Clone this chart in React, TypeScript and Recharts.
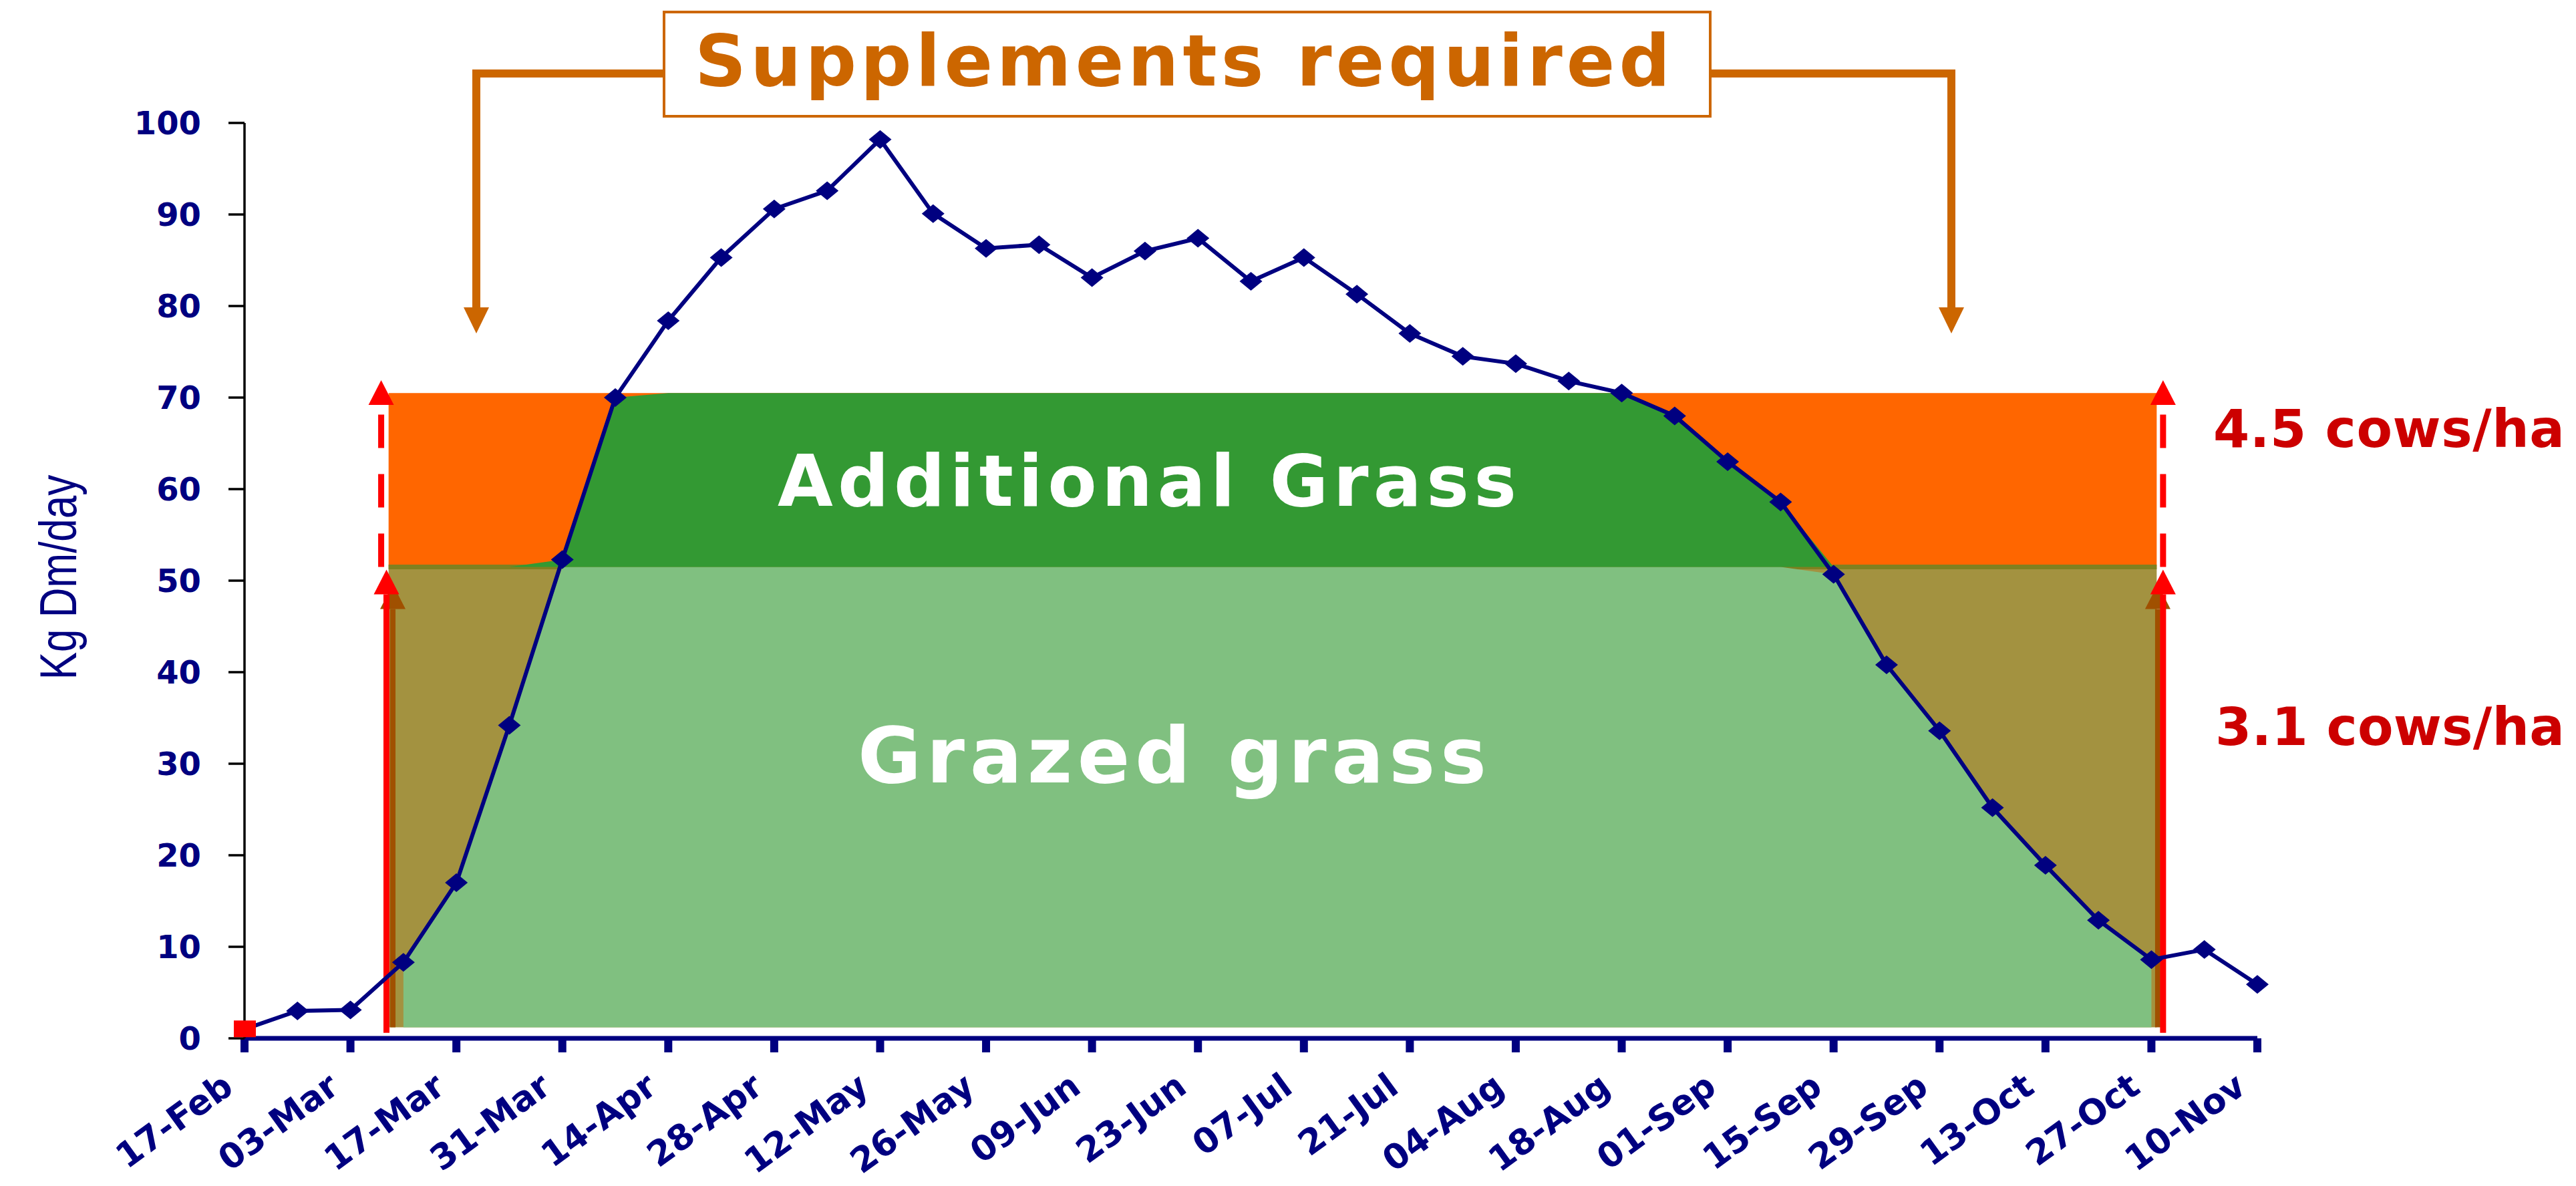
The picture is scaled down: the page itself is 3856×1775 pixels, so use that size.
import { ComposedChart, Area, Line, XAxis, YAxis, ReferenceLine } from 'recharts'

// weekly grass growth (kg DM/ha/day), 17-Feb .. 10-Nov
const weekDates = [
  '17-Feb', '24-Feb', '03-Mar', '10-Mar', '17-Mar', '24-Mar', '31-Mar', '07-Apr',
  '14-Apr', '21-Apr', '28-Apr', '05-May', '12-May', '19-May', '26-May', '02-Jun',
  '09-Jun', '16-Jun', '23-Jun', '30-Jun', '07-Jul', '14-Jul', '21-Jul', '28-Jul',
  '04-Aug', '11-Aug', '18-Aug', '25-Aug', '01-Sep', '08-Sep', '15-Sep', '22-Sep',
  '29-Sep', '06-Oct', '13-Oct', '20-Oct', '27-Oct', '03-Nov', '10-Nov',
]

const grassGrowth = [
  1.0, 3.0, 3.1, 8.3, 17.0, 34.2, 52.3, 70.0,
  78.4, 85.3, 90.6, 92.6, 98.2, 90.1, 86.3, 86.7,
  83.1, 86.0, 87.4, 82.7, 85.3, 81.3, 77.0, 74.5,
  73.7, 71.8, 70.5, 68.0, 63.0, 58.6, 50.7, 40.8,
  33.6, 25.2, 18.9, 12.9, 8.6, 9.7, 5.9,
]

const yTicks = [0, 10, 20, 30, 40, 50, 60, 70, 80, 90, 100]
const xTicks = [0, 2, 4, 6, 8, 10, 12, 14, 16, 18, 20, 22, 24, 26, 28, 30, 32, 34, 36, 38]

// demand levels for the two stocking rates
const demandLow = 51.5 // 3.1 cows/ha
const demandHigh = 70.5 // 4.5 cows/ha
const demandFloor = 1.2
// grazing season (week index)
const seasonStart = 2.72
const seasonEnd = 36.1
const firstWeek = 3
const lastWeek = 36

const NAVY = '#000080'
const RED = '#FF0000'
const BOLD = '"DejaVu Sans", Verdana, sans-serif'

const lineData = weekDates.map((date, i) => ({ x: i, date, growth: grassGrowth[i] }))

const band = (lo: number, hi: number) => [
  { x: seasonStart, v: [lo, hi] },
  { x: seasonEnd, v: [lo, hi] },
]

const grazedData = lineData
  .filter((d) => d.x >= firstWeek && d.x <= lastWeek)
  .map((d) => ({ x: d.x, v: [demandFloor, Math.min(d.growth, demandLow)] }))

const additionalData = lineData
  .filter((d) => d.x >= firstWeek && d.x <= lastWeek)
  .map((d) => ({
    x: d.x,
    v: [demandLow, Math.max(demandLow, Math.min(d.growth, demandHigh))],
  }))

const arrow = (color: string, dashed: boolean, width = 9) => (props: any) => {
  const { x1, y1, y2 } = props
  const top = Math.min(y1, y2)
  const bottom = Math.max(y1, y2)
  const headH = 37
  const headW = 38
  return (
    <g>
      <line
        x1={x1}
        x2={x1}
        y1={bottom}
        y2={top + headH}
        stroke={color}
        strokeWidth={width}
        strokeDasharray={dashed ? '50 39' : undefined}
      />
      <polygon
        points={`${x1},${top} ${x1 - headW / 2},${top + headH} ${x1 + headW / 2},${top + headH}`}
        fill={color}
      />
    </g>
  )
}

const GrowthDot = (props: any) => {
  const { cx, cy, index } = props
  if (cx == null || cy == null) return <g key={`d${index}`} />
  if (index === 0) {
    return <rect key={`d${index}`} x={cx - 16} y={cy - 13} width={33} height={25} fill={RED} />
  }
  return (
    <path
      key={`d${index}`}
      d={`M${cx},${cy - 14} L${cx + 17},${cy} L${cx},${cy + 14} L${cx - 17},${cy} Z`}
      fill={NAVY}
    />
  )
}

const XTick = ({ x, y, payload }: any) => {
  const ax = x - 14
  const ay = y + 56
  return (
    <text
      x={ax}
      y={ay}
      transform={`rotate(-36 ${ax} ${ay})`}
      textAnchor="end"
      fill={NAVY}
      fontFamily={BOLD}
      fontWeight="bold"
      fontSize={52}
    >
      {weekDates[payload.value]}
    </text>
  )
}

const YTick = ({ x, y, payload }: any) => (
  <text
    x={x}
    y={y}
    dy="0.36em"
    textAnchor="end"
    fill={NAVY}
    fontFamily={BOLD}
    fontWeight="bold"
    fontSize={48}
  >
    {payload.value}
  </text>
)

const ORANGE_LINE = '#CC6600'

export default function App() {
  return (
    <div style={{ position: 'absolute', left: 0, top: 0, width: 3856, height: 1775, background: '#fff' }}>
      <ComposedChart
        width={3856}
        height={1775}
        data={lineData}
        margin={{ top: 184, right: 477, bottom: 21, left: 166 }}
      >
        <XAxis
          type="number"
          dataKey="x"
          domain={[0, 38]}
          ticks={xTicks}
          interval={0}
          height={200}
          stroke={NAVY}
          strokeWidth={7}
          tickSize={21}
          tickLine={{ stroke: NAVY, strokeWidth: 12 }}
          tick={<XTick />}
        />
        <YAxis
          type="number"
          domain={[0, 100]}
          ticks={yTicks}
          interval={0}
          width={200}
          stroke="#000"
          strokeWidth={3.5}
          tickSize={24}
          tickMargin={41}
          tickLine={{ stroke: '#000', strokeWidth: 3.5 }}
          tick={<YTick />}
        />

        <Area
          data={band(demandFloor, demandLow)}
          dataKey="v"
          type="linear"
          stroke="none"
          fill="#A39240"
          fillOpacity={1}
          isAnimationActive={false}
          dot={false}
          activeDot={false}
        />
        <Area
          data={band(demandLow, demandHigh)}
          dataKey="v"
          type="linear"
          stroke="none"
          fill="#FF6600"
          fillOpacity={1}
          isAnimationActive={false}
          dot={false}
          activeDot={false}
        />
        <Area
          data={band(demandLow - 0.25, demandLow + 0.25)}
          dataKey="v"
          type="linear"
          stroke="none"
          fill="#808020"
          fillOpacity={1}
          isAnimationActive={false}
          dot={false}
          activeDot={false}
        />
        <Area
          data={grazedData}
          dataKey="v"
          type="linear"
          stroke="none"
          fill="#80C080"
          fillOpacity={1}
          isAnimationActive={false}
          dot={false}
          activeDot={false}
        />
        <Area
          data={additionalData}
          dataKey="v"
          type="linear"
          stroke="none"
          fill="#339933"
          fillOpacity={1}
          isAnimationActive={false}
          dot={false}
          activeDot={false}
        />

        {/* stocking-rate arrows */}
        <ReferenceLine
          segment={[{ x: 2.8, y: demandFloor }, { x: 2.8, y: 49.6 }]}
          shape={arrow('#A05000', false, 8)}
        />
        <ReferenceLine
          segment={[{ x: 2.68, y: demandFloor - 0.6 }, { x: 2.68, y: 51.2 }]}
          shape={arrow(RED, false)}
        />
        <ReferenceLine
          segment={[{ x: 2.58, y: demandLow }, { x: 2.58, y: 71.9 }]}
          shape={arrow(RED, true)}
        />
        <ReferenceLine
          segment={[{ x: 36.12, y: demandFloor }, { x: 36.12, y: 49.6 }]}
          shape={arrow('#A05000', false, 8)}
        />
        <ReferenceLine
          segment={[{ x: 36.22, y: demandFloor - 0.6 }, { x: 36.22, y: 51.2 }]}
          shape={arrow(RED, false)}
        />
        <ReferenceLine
          segment={[{ x: 36.22, y: demandLow }, { x: 36.22, y: 71.9 }]}
          shape={arrow(RED, true)}
        />

        <Line
          dataKey="growth"
          type="linear"
          stroke={NAVY}
          strokeWidth={6}
          dot={GrowthDot}
          activeDot={false}
          isAnimationActive={false}
        />
      </ComposedChart>

      <svg
        width={3856}
        height={1775}
        style={{ position: 'absolute', left: 0, top: 0, pointerEvents: 'none' }}
      >
        {/* supplements bracket */}
        <path
          d="M713,110 L994,110 M2560,110 L2921,110 M713,104 L713,465 M2921,104 L2921,465"
          stroke={ORANGE_LINE}
          strokeWidth={12}
          fill="none"
        />
        <polygon points="713,499 694,460 732,460" fill={ORANGE_LINE} />
        <polygon points="2921,499 2902,460 2940,460" fill={ORANGE_LINE} />
        <rect x={994} y={18} width={1566} height={156} fill="#fff" stroke={ORANGE_LINE} strokeWidth={4} />
        <text
          x={1040}
          y={128}
          fill={ORANGE_LINE}
          fontFamily={BOLD}
          fontWeight="bold"
          fontSize={107}
          textLength={1460}
          lengthAdjust="spacing"
        >
          Supplements required
        </text>

        <text
          x={1164}
          y={757}
          fill="#fff"
          fontFamily={BOLD}
          fontWeight="bold"
          fontSize={107}
          textLength={1106}
          lengthAdjust="spacing"
        >
          Additional Grass
        </text>
        <text
          x={1284}
          y={1171}
          fill="#fff"
          fontFamily={BOLD}
          fontWeight="bold"
          fontSize={116}
          textLength={941}
          lengthAdjust="spacing"
        >
          Grazed grass
        </text>

        <text x={3313} y={669} fill="#CC0000" fontFamily={BOLD} fontWeight="bold" fontSize={78} textLength={526} lengthAdjust="spacing">
          4.5 cows/ha
        </text>
        <text x={3316} y={1115} fill="#CC0000" fontFamily={BOLD} fontWeight="bold" fontSize={78} textLength={523} lengthAdjust="spacing">
          3.1 cows/ha
        </text>

        <text
          transform="translate(87 864) scale(1.27 1) rotate(-90)"
          textAnchor="middle"
          dominantBaseline="central"
          fill={NAVY}
          fontFamily='"Liberation Sans", Arial, sans-serif'
          fontSize={62}
        >
          Kg Dm/day
        </text>
      </svg>
    </div>
  )
}
